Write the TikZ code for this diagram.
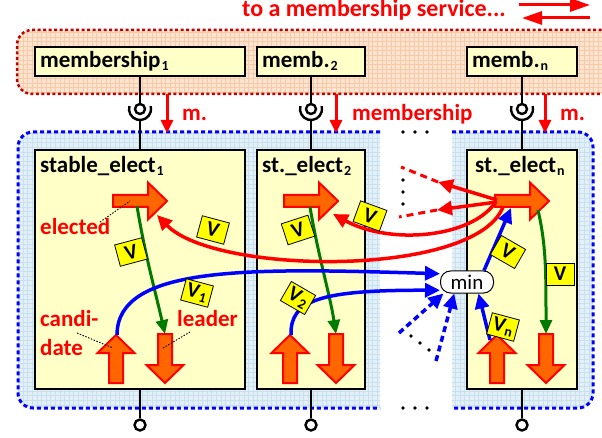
\documentclass[tikz,border=0pt]{standalone}
\usepackage{fontspec}
\setmainfont{Carlito}
\usetikzlibrary{arrows.meta,calc}

\definecolor{cred}{HTML}{FF0000}
\definecolor{cdred}{HTML}{C00000}
\definecolor{cblue}{HTML}{0000FF}
\definecolor{cgreen}{HTML}{007A00}
\definecolor{arrowfill}{HTML}{FF6600}
\definecolor{boxyellow}{HTML}{FFFFC8}
\definecolor{tagyellow}{HTML}{FFFF00}
\definecolor{peach}{HTML}{FDE4D0}
\definecolor{peachgrid}{HTML}{F7CBA8}
\definecolor{sky}{HTML}{E3F0F8}
\definecolor{skygrid}{HTML}{C9E0EE}

\newcommand\lowidx[1]{\kern1pt\raisebox{-3pt}{\fontsize{14}{14}\selectfont #1}}

\begin{document}
\begin{tikzpicture}[x=1pt,y=-1pt,
  every node/.style={inner sep=0pt},
  box/.style={draw=black, line width=1.2pt, fill=boxyellow},
  lbl/.style={font=\bfseries\fontsize{23}{26}\selectfont, anchor=base west},
  rlbl/.style={lbl, text=cred},
  fatarrow/.style={draw=cred, fill=arrowfill, line width=2pt, line join=miter},
  tag/.style={draw=black, line width=0.8pt, fill=tagyellow, minimum width=28pt,
    minimum height=22pt, inner xsep=3pt, font=\bfseries\fontsize{21}{21}\selectfont},
  redcon/.style={draw=cred, line width=3.5pt, -{Triangle[length=15pt,width=14pt]}},
  bluecon/.style={draw=cblue, line width=3.5pt, -{Triangle[length=15pt,width=14pt]}},
  bluedash/.style={bluecon, dash pattern=on 6pt off 4pt},
  reddash/.style={draw=cred, line width=3pt, dash pattern=on 7pt off 5pt},
  greencon/.style={draw=cgreen, line width=3pt, -{Triangle[length=14pt,width=12pt]}},
  mflow/.style={draw=cred, line width=3pt, -{Triangle[length=13pt,width=12pt]}},
  stem/.style={draw=black, line width=2.4pt},
  ball/.style={circle, draw=black, line width=2.4pt, fill=white, minimum size=10pt},
  leadline/.style={draw=black, line width=0.9pt, dash pattern=on 1.5pt off 1.5pt},
  dot/.style={circle, fill=black, minimum size=3.6pt},
  memberborder/.style={draw=cdred, line width=2.5pt, dash pattern=on 3pt off 2.5pt, rounded corners=15pt},
  electborder/.style={draw=cblue, line width=3pt, dash pattern=on 4pt off 3pt, rounded corners=15pt},
  fatR/.pic={
    \path[fatarrow] (-27,-6) -- (8,-6) -- (8,-18.5) -- (27,0) -- (8,18.5) -- (8,6) -- (-27,6) -- cycle;
    \coordinate (-c) at (0,0);},
  fatU/.pic={
    \path[fatarrow] (-7,24) -- (-7,-6) -- (-18.5,-6) -- (0,-24) -- (18.5,-6) -- (7,-6) -- (7,24) -- cycle;
    \coordinate (-c) at (0,0);},
  fatD/.pic={
    \path[fatarrow] (-7,-25) -- (7,-25) -- (7,6) -- (18.5,6) -- (0,24) -- (-18.5,6) -- (-7,6) -- cycle;
    \coordinate (-c) at (0,0);}
]
\useasboundingbox (0,0) rectangle (602,438);

% ---- membership service band ----
\begin{scope}
  \clip[rounded corners=15pt] (17,30) rectangle (640,94);
  \fill[peach] (17,30) rectangle (640,94);
  \draw[peachgrid, line width=0.4pt, step=4.6pt] (17,30) grid (640,94);
\end{scope}
\draw[memberborder] (640,30) -- (17,30) -- (17,94) -- (640,94);

% ---- election band (two parts) ----
\begin{scope}
  \clip[rounded corners=15pt] (18,132) rectangle (593,408);
  \fill[sky] (18,132) rectangle (380,408);
  \fill[sky] (452,132) rectangle (593,408);
  \begin{scope}
    \clip (18,132) rectangle (380,408) (452,132) rectangle (593,408);
    \draw[skygrid, line width=0.4pt, step=4.6pt] (18,132) grid (593,408);
  \end{scope}
\end{scope}
\draw[electborder] (380,132) -- (18,132) -- (18,408) -- (380,408);
\draw[electborder] (452,132) -- (593,132) -- (593,408) -- (452,408);

% ---- title and service arrows ----
\node[rlbl, font=\bfseries\fontsize{24}{26}\selectfont] (title) at (242,17) {to a membership service...};
\coordinate (ta0) at (519,5);  \coordinate (ta1) at (590,5);
\coordinate (tb0) at (590,18); \coordinate (tb1) at (522,18);
\draw[draw=cred, line width=3pt, -{Triangle[length=20pt,width=13pt]}] (ta0) -- (ta1);
\draw[draw=cred, line width=3pt, -{Triangle[length=20pt,width=13pt]}] (tb0) -- (tb1);

% ---- membership boxes ----
\node[box, minimum width=210pt, minimum height=29pt] (m1) at (140,61.5) {};
\node[box, minimum width=108pt, minimum height=29pt] (m2) at (311,61.5) {};
\node[box, minimum width=110pt, minimum height=29pt] (mn) at (522,61.5) {};
\node[lbl] (m1t) at (40,68) {membership\lowidx{1}};
\node[lbl] (m2t) at (262,68) {memb.\lowidx{2}};
\node[lbl] (mnt) at (472,68) {memb.\lowidx{n}};

% ---- election boxes ----
\node[box, minimum width=210pt, minimum height=239pt] (s1) at (140,269.5) {};
\node[box, minimum width=108pt, minimum height=239pt] (s2) at (311,269.5) {};
\node[box, minimum width=110pt, minimum height=239pt] (sn) at (522,269.5) {};
\node[lbl] (s1t) at (40,173) {stable\_elect\lowidx{1}};
\node[lbl] (s2t) at (262,173) {st.\_elect\lowidx{2}};
\node[lbl] (snt) at (475,173) {st.\_elect\lowidx{n}};

% ---- ball-and-socket links ----
\foreach \i/\x in {1/140, 2/311, n/522} {
  \node[ball] (b\i) at (\x,109) {};
  \coordinate (k\i) at (\x,120);
  \draw[stem] (m\i.south) -- (b\i);
  \draw[stem] (b\i.center) ++(195:11) arc[start angle=195, end angle=-15, radius=11];
  \draw[stem] (k\i) -- (s\i.north);
  \node[ball, minimum size=11pt] (o\i) at (\x,425) {};
  \draw[stem] (s\i.south) -- (o\i);
}

% ---- membership flow arrows ----
\foreach \i/\x in {1/167, 2/336, n/545} {
  \coordinate (ma\i) at (\x,94);
  \coordinate (mb\i) at (\x,133);
  \draw[mflow] (ma\i) -- (mb\i);
}
\node[rlbl] (ml1) at (182,121) {m.};
\node[rlbl] (ml2) at (352,121) {membership};
\node[rlbl] (mln) at (560,121) {m.};

% ---- ellipses between instances ----
\foreach \x in {403,415,427} {
  \node[dot] (dt\x) at (\x,132) {};
  \node[dot] (db\x) at (\x,408) {};
}
\foreach \y in {180,192,204} \node[dot] (dv\y) at (403,\y) {};
\node[dot] (dd1) at (411,336) {};
\node[dot] (dd2) at (420,343) {};
\node[dot] (dd3) at (429,350) {};

% ---- fat arrows: elected, candidate, leader ----
\pic (e1) at (140,201) {fatR};
\pic (e2) at (311,201) {fatR};
\pic (en) at (522,201) {fatR};
\pic (c1) at (116,359) {fatU};
\pic (c2) at (290,359) {fatU};
\pic (cn) at (497,359) {fatU};
\pic (d1) at (165,359) {fatD};
\pic (d2) at (336,359) {fatD};
\pic (dn) at (546,359) {fatD};

% ---- red labels with leader lines ----
\node[rlbl] (lel) at (40,235) {elected};
\node[rlbl] (lca) at (40,326) {candi-};
\node[rlbl] (lda) at (40,355) {date};
\node[rlbl] (lle) at (177,326) {leader};
\coordinate (pel) at (100,222);
\coordinate (pca) at (77,333);
\coordinate (ple) at (190,332);
\draw[leadline] (pel) -- ($(e1-c)+(-10,0)$);
\draw[leadline] (pca) -- ($(c1-c)+(-3,-11)$);
\draw[leadline] ($(d1-c)+(-2,-11)$) -- (ple);

% ---- min node ----
\node[draw=black, line width=1pt, fill=white, rounded corners=10pt, minimum width=53pt,
      minimum height=22pt, font=\fontsize{21}{21}\selectfont] (min) at (467,282) {min};

% ---- green: elected to leader ----
\draw[greencon] ($(e1-c)+(-3,5)$) .. controls (145,255) and (155,290) .. ($(d1-c)+(0,-25)$);
\draw[greencon] ($(e2-c)+(-1,6)$) .. controls (318,255) and (330,295) .. ($(d2-c)+(0,-25)$);
\draw[greencon] ($(en-c)+(16,9)$) .. controls (546,245) and (546,270) .. ($(dn-c)+(0,-25)$);

% ---- red: elected value sent to the other instances ----
\coordinate (up1) at (438,182); \coordinate (up0) at (401,167);
\coordinate (lo1) at (437,210); \coordinate (lo0) at (399,217);
\draw[reddash] (up1) -- (up0);
\draw[reddash] (lo1) -- (lo0);
\draw[redcon] ($(en-c)+(-25,-1)$) -- (up1);
\draw[redcon] ($(en-c)+(-25,1)$) -- (lo1);
\draw[redcon] ($(en-c)+(-27,2)$) .. controls (470,238) and (390,245) .. ($(e2-c)+(22,13)$);
\draw[redcon] ($(en-c)+(-19,6)$) .. controls (475,278) and (215,275) .. ($(e1-c)+(17,14)$);

% ---- blue: candidates to min, min to elected ----
\draw[bluecon] ($(c1-c)+(1,-24)$) .. controls (117,265) and (250,268) .. (min.163);
\draw[bluecon] ($(c2-c)+(1,-24)$) .. controls (290,300) and (320,290) .. (min.197);
\draw[bluecon] ($(cn-c)+(-7,-19)$) -- (min.315);
\draw[bluecon] ([xshift=-10pt]min.north east) -- ($(en-c)+(-11,7)$);
\coordinate (bd1) at (399,333);
\coordinate (bd2) at (436,361);
\draw[bluedash] (bd1) -- (min.206);
\draw[bluedash] (bd2) -- (min.222);

% ---- value tags ----
\node[tag, rotate=15]  (t1) at (131,252) {V};
\node[tag, rotate=-15] (t2) at (213,230) {V};
\node[tag, rotate=-15] (t3) at (197,293) {V\lowidx{1}};
\node[tag, rotate=18]  (t4) at (298,230) {V};
\node[tag, rotate=-20] (t5) at (370,216) {V};
\node[tag, rotate=-30] (t6) at (298,298) {V\lowidx{2}};
\node[tag, rotate=-30] (t7) at (508,252) {V};
\node[tag]             (t8) at (560,274) {V};
\node[tag, rotate=-15] (t9) at (503,327) {V\lowidx{n}};
\end{tikzpicture}
\end{document}
